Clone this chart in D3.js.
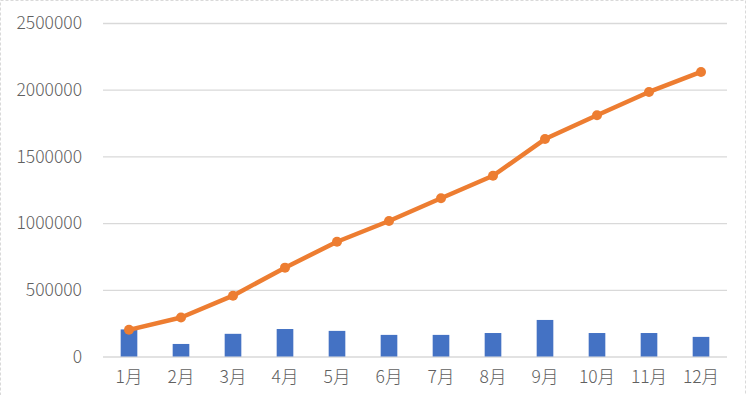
<!DOCTYPE html>
<html>
<head>
<meta charset="utf-8">
<script src="https://cdn.jsdelivr.net/npm/d3@7"></script>
<style>
    body { margin: 0; background: #fff; }
    #chart { width: 750px; height: 395px; }
    text { font-family: "Noto Sans CJK SC", "Noto Sans", sans-serif; fill: #606060; font-weight: 300; }
</style>
</head>
<body>
<div id="chart"></div>
<script>
// months, monthly values (bars) and running total (line)
const months = ['1月', '2月', '3月', '4月', '5月', '6月', '7月', '8月', '9月', '10月', '11月', '12月']
const monthly = [203000, 94000, 170000, 206000, 192000, 162000, 162000, 176000, 274000, 176000, 176000, 147000]
const total = [200000, 292000, 456000, 666000, 860000, 1016000, 1186000, 1355000, 1630000, 1808000, 1983000, 2133000]
const y_ticks = [0, 500000, 1000000, 1500000, 2000000, 2500000]

function build_chart() {
    const width = 750
    const height = 395
    const margin = { top: 23, right: 23, bottom: 38.5, left: 103 }

    const svg = d3.select('#chart')
        .append('svg')
        .attr('width', width)
        .attr('height', height)

    // dashed outer frame
    svg.append('rect')
        .attr('x', 0.5)
        .attr('y', 0.5)
        .attr('width', 745)
        .attr('height', height + 10)
        .attr('fill', 'none')
        .attr('stroke', '#d9d9d9')
        .attr('stroke-dasharray', '3,2')

    const x = d3.scaleBand()
        .domain(months)
        .range([margin.left, width - margin.right])
        .paddingInner(0.68)
        .paddingOuter(0.34)

    const y = d3.scaleLinear()
        .domain([0, 2500000])
        .range([height - margin.bottom, margin.top])

    // gridlines + y labels
    const y_axis = svg.append('g')
        .attr('transform', `translate(${margin.left}, 0)`)
        .call(d3.axisLeft(y)
            .tickValues(y_ticks)
            .tickSize(-(width - margin.left - margin.right))
            .tickPadding(21)
            .tickFormat(d => d))
    y_axis.select('.domain').remove()
    y_axis.selectAll('line')
        .attr('stroke', '#d9d9d9')
        .attr('stroke-width', 1.3)
    y_axis.selectAll('text')
        .style('font-size', '17.5px')

    // bars
    svg.append('g')
        .selectAll('rect')
        .data(months)
        .enter()
        .append('rect')
        .attr('x', d => x(d))
        .attr('width', x.bandwidth())
        .attr('y', (d, i) => y(monthly[i]))
        .attr('height', (d, i) => y(0) - y(monthly[i]))
        .attr('fill', '#4472c4')

    // x labels
    const x_axis = svg.append('g')
        .attr('transform', `translate(0, ${y(0)})`)
        .call(d3.axisBottom(x).tickSize(0).tickPadding(14))
    x_axis.select('.domain').remove()
    x_axis.selectAll('text')
        .style('font-size', '17.5px')

    // running total line
    const cx = d => x(d) + x.bandwidth() / 2
    const line = d3.line()
        .x(d => cx(d))
        .y((d, i) => y(total[i]))

    svg.append('path')
        .datum(months)
        .attr('d', line)
        .attr('fill', 'none')
        .attr('stroke', '#ed7d31')
        .attr('stroke-width', 4.5)
        .attr('stroke-linejoin', 'round')

    svg.append('g')
        .selectAll('circle')
        .data(months)
        .enter()
        .append('circle')
        .attr('cx', d => cx(d))
        .attr('cy', (d, i) => y(total[i]))
        .attr('r', 5)
        .attr('fill', '#ed7d31')
}

build_chart()
</script>
</body>
</html>
